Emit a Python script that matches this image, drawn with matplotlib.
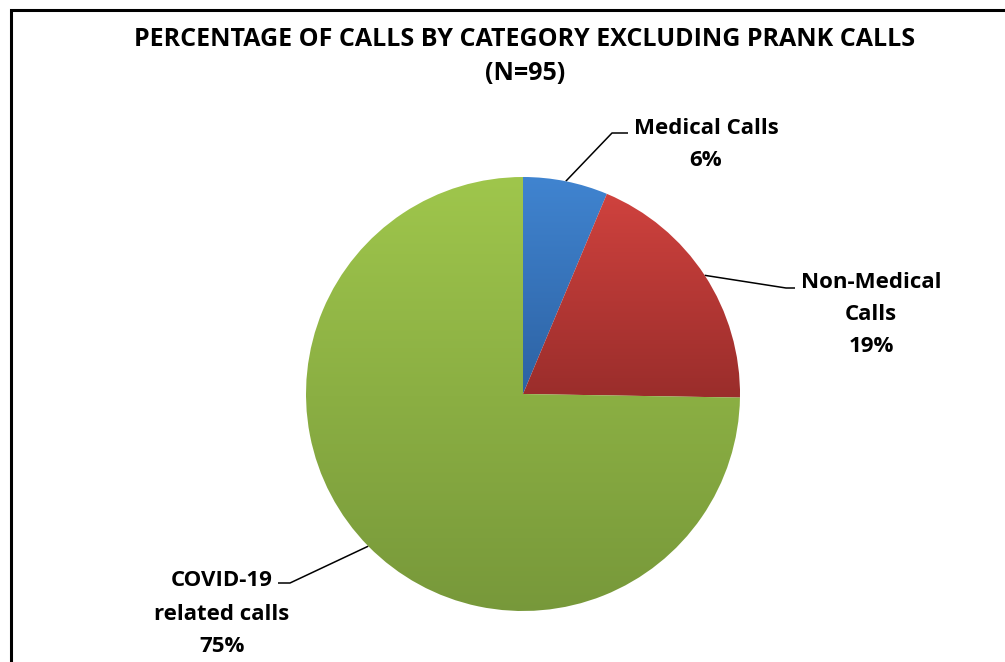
import numpy as np
import matplotlib
matplotlib.use('Agg')
import matplotlib.pyplot as plt
from matplotlib.colors import LinearSegmentedColormap

# data
categories = ['Medical Calls', 'Non-Medical\nCalls', 'COVID-19\nrelated calls']
counts = [6, 18, 71]
pct_labels = ['6%', '19%', '75%']
top_colors = ['#4084d0', '#cf423e', '#9fc64c']
bottom_colors = ['#2d62a3', '#9a2d2b', '#77983a']

plt.rcParams['font.family'] = ['Open Sans', 'DejaVu Sans']
plt.rcParams['font.weight'] = 'bold'

W, H = 1005, 662
fig = plt.figure(figsize=(W / 100, H / 100), dpi=100)

# overlay in pixel coordinates (y downward)
ov = fig.add_axes([0, 0, 1, 1])
ov.set_xlim(0, W)
ov.set_ylim(H, 0)
ov.axis('off')

# pie axes
cx, cy, r = 523, 394, 217
ax = fig.add_axes([(cx - r) / W, (H - cy - r) / H, 2 * r / W, 2 * r / H])
wedges, _ = ax.pie(counts, startangle=90, counterclock=False, radius=1)
ax.set_xlim(-1, 1)
ax.set_ylim(-1, 1)
ax.set_aspect('equal')

for w, c1, c2 in zip(wedges, top_colors, bottom_colors):
    w.set_facecolor('none')
    w.set_edgecolor('none')
    verts = w.get_path().vertices
    ymin, ymax = verts[:, 1].min(), verts[:, 1].max()
    xmin, xmax = verts[:, 0].min(), verts[:, 0].max()
    cmap = LinearSegmentedColormap.from_list('g', [c2, c1])
    grad = np.linspace(0, 1, 256).reshape(-1, 1)
    im = ax.imshow(grad, cmap=cmap, origin='lower', aspect='auto',
                   extent=[xmin, xmax, ymin, ymax], zorder=1)
    im.set_clip_path(w)
ax.set_xlim(-1, 1)
ax.set_ylim(-1, 1)

def to_px(x, y):
    dx, dy = ax.transData.transform((x, y))
    return dx, H - dy

# leader lines from wedge mid-angle
elbows = [[(612, 133), (628, 133)],
          [(786, 288), (795, 288)],
          [(290, 583), (278, 583)]]
for w, pts in zip(wedges, elbows):
    mid = np.deg2rad((w.theta1 + w.theta2) / 2)
    sx, sy = to_px(np.cos(mid), np.sin(mid))
    xs = [sx] + [p[0] for p in pts]
    ys = [sy] + [p[1] for p in pts]
    ov.plot(xs, ys, color='black', lw=1.1, solid_capstyle='butt')

# labels
fs = 16
ov.text(706, 128, categories[0], ha='center', va='center', fontsize=fs, fontweight='bold')
ov.text(706, 160, pct_labels[0], ha='center', va='center', fontsize=fs, fontweight='bold')
ov.text(871, 282, 'Non-Medical', ha='center', va='center', fontsize=fs, fontweight='bold')
ov.text(871, 314, 'Calls', ha='center', va='center', fontsize=fs, fontweight='bold')
ov.text(871, 347, pct_labels[1], ha='center', va='center', fontsize=fs, fontweight='bold')
ov.text(222, 581, 'COVID-19', ha='center', va='center', fontsize=fs, fontweight='bold')
ov.text(222, 614, 'related calls', ha='center', va='center', fontsize=fs, fontweight='bold')
ov.text(222, 646, pct_labels[2], ha='center', va='center', fontsize=fs, fontweight='bold')

# title
ov.text(525, 39, 'PERCENTAGE OF CALLS BY CATEGORY EXCLUDING PRANK CALLS',
        ha='center', va='center', fontsize=18, fontweight='bold')
ov.text(525, 74, '(N=95)', ha='center', va='center', fontsize=18, fontweight='bold')

# frame (cropped at right and bottom)
ov.plot([11, 11, W + 5], [H + 5, 10, 10], color='black', lw=2.2, solid_joinstyle='miter')

fig.savefig('out.png', dpi=100)
